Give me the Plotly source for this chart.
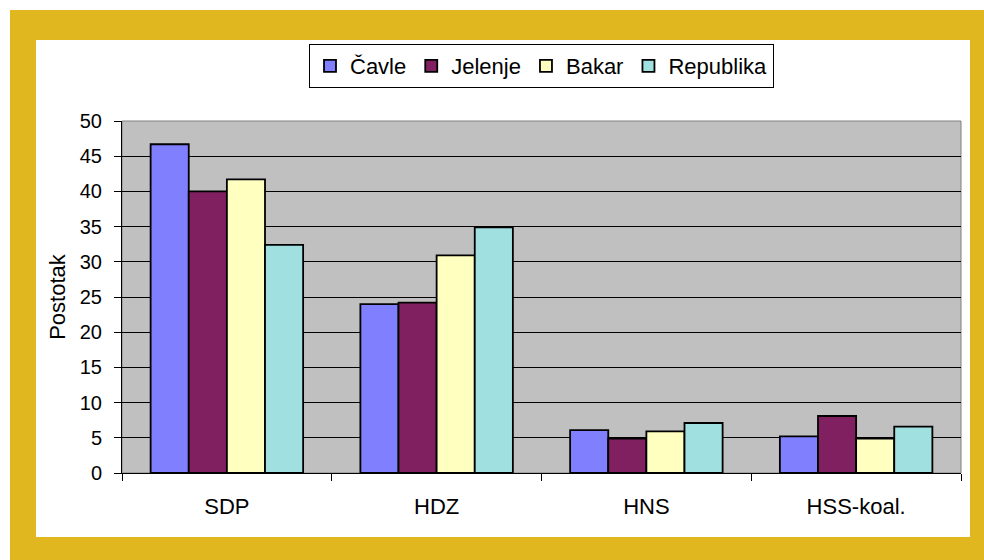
import plotly.graph_objects as go

categories = ["SDP", "HDZ", "HNS", "HSS-koal."]
cavle = [46.7, 24.0, 6.1, 5.2]
jelenje = [40.0, 24.2, 4.9, 8.1]
bakar = [41.7, 30.9, 5.9, 4.9]
republika = [32.4, 34.9, 7.1, 6.6]
series_names = ["Čavle", "Jelenje", "Bakar", "Republika"]
colors = ["#8080FF", "#802060", "#FFFFC0", "#A0E0E0"]

FONT = "Liberation Sans, Arial, sans-serif"

W, H = 984, 560
# plot area in page pixels
L, R, T, B = 122, 961, 121, 473

def px(x):
    return (x - L) / (R - L)

def py(y):
    return (B - y) / (B - T)

fig = go.Figure()
for name, vals, c in zip(series_names, [cavle, jelenje, bakar, republika], colors):
    fig.add_trace(go.Bar(
        x=categories, y=vals, name=name,
        marker=dict(color=c, line=dict(color="black", width=1.8)),
    ))

shapes = [
    dict(type="rect", xref="paper", yref="paper", layer="below",
         x0=px(10), x1=px(1000), y0=py(10), y1=py(580),
         fillcolor="#E1B71F", line=dict(width=0)),
    dict(type="rect", xref="paper", yref="paper", layer="below",
         x0=px(36), x1=px(970), y0=py(40), y1=py(537),
         fillcolor="white", line=dict(width=0)),
    dict(type="rect", xref="paper", yref="paper", layer="below",
         x0=0, x1=1, y0=0, y1=1,
         fillcolor="#C0C0C0", line=dict(color="#808080", width=1)),
]

fig.update_layout(
    width=W, height=H,
    margin=dict(l=L, r=W - R, t=T, b=H - B),
    paper_bgcolor="white",
    plot_bgcolor="rgba(0,0,0,0)",
    barmode="group",
    bargap=0.273,
    bargroupgap=0,
    font=dict(family=FONT, size=20, color="black"),
    shapes=shapes,
    showlegend=True,
    legend=dict(
        orientation="h",
        x=0.5, xanchor="center",
        y=py(44), yanchor="top",
        bgcolor="white",
        bordercolor="black",
        borderwidth=1,
        font=dict(family=FONT, size=22, color="black"),
        itemwidth=30,
        tracegroupgap=0,
    ),
    xaxis=dict(
        showline=True, linecolor="black", linewidth=1,
        ticks="outside", ticklen=7, tickcolor="black",
        tickson="boundaries",
        tickfont=dict(size=22),
        ticklabelstandoff=14,
        showgrid=False,
    ),
    yaxis=dict(
        range=[0, 50], dtick=5,
        showline=True, linecolor="black", linewidth=1,
        ticks="outside", ticklen=7, tickcolor="black",
        gridcolor="black", gridwidth=1,
        zeroline=False,
        tickfont=dict(size=20),
        ticklabelstandoff=8,
        title=dict(text="Postotak", font=dict(size=22), standoff=8),
    ),
)

fig.write_html(
    "out.html",
    config={"displayModeBar": False},
    post_script="document.body.style.margin='0px';",
)
